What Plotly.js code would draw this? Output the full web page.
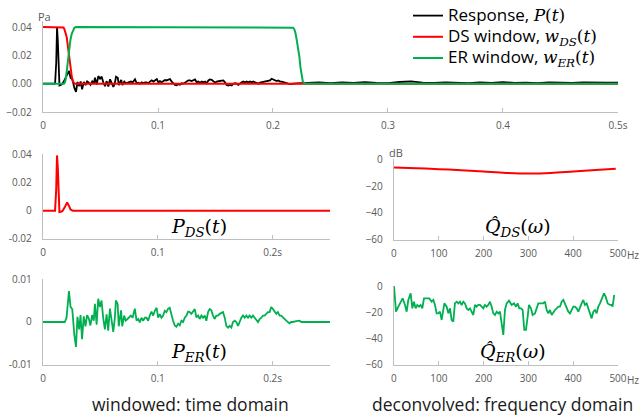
<!DOCTYPE html>
<html>
<head>
<meta charset="utf-8">
<script src="https://cdn.plot.ly/plotly-3.0.1.min.js"></script>
<style>html,body{margin:0;padding:0;background:#fff;}#chart{width:640px;height:420px;}</style>
</head>
<body>
<div id="chart"></div>
<script>
// ---- Windows (scaled to 0.04) ----
var dsWinT = [0, 0.017, 0.0178, 0.0186, 0.0196, 0.0206, 0.0216, 0.0226, 0.0235, 0.0243, 0.0252, 0.026, 0.0268, 0.0278, 0.5];
var dsWinV = [0.04, 0.04, 0.0397, 0.0385, 0.0362, 0.033, 0.0266, 0.0196, 0.0132, 0.0079, 0.0040, 0.0015, 0.0004, 0, 0];
var erWinT = [0, 0.0182, 0.019, 0.0197, 0.0208, 0.022, 0.0229, 0.0238, 0.0249, 0.026, 0.0272, 0.0285, 0.216, 0.2175, 0.2185,
  0.2196, 0.2206, 0.2218, 0.2229, 0.2239, 0.2249, 0.2259, 0.227, 0.229, 0.5];
var erWinV = [0, 0, 0.0008, 0.003, 0.0100, 0.0194, 0.0255, 0.0307, 0.0350, 0.0378, 0.0394, 0.04, 0.04, 0.0396, 0.0385,
  0.0356, 0.031, 0.0252, 0.0194, 0.0115, 0.0052, 0.0016, 0.0004, 0, 0];

// ---- Response: early direct sound part ----
var earlyT = [0, 0.0105, 0.0115, 0.0122, 0.0129, 0.0136, 0.0143, 0.0155, 0.017, 0.019, 0.021, 0.0226, 0.024, 0.0255];
var earlyV = [0, 0, 0.015, 0.040, 0.030, 0.004, -0.0012, -0.0008, 0, 0.003, 0.007, 0.009, 0.004, 0.0032];

// ---- Windowed ER response P_ER(t) ----
var erT = [0, 0.019, 0.0205, 0.0226, 0.024, 0.0255, 0.0272, 0.0287, 0.030, 0.0315, 0.0327, 0.034, 0.0355, 0.037, 0.0384, 0.0399,
  0.0413, 0.0428, 0.0442, 0.0452, 0.0467, 0.0481, 0.0496, 0.051, 0.0524, 0.0539, 0.0554, 0.0568, 0.0583, 0.0597, 0.0612, 0.0626,
  0.0635, 0.065, 0.066, 0.068, 0.069, 0.0707, 0.072, 0.0736, 0.075, 0.0765, 0.078, 0.080, 0.0815, 0.083, 0.0843, 0.0858, 0.0872,
  0.0887, 0.0901, 0.0916, 0.093, 0.0945, 0.096, 0.0974, 0.099, 0.1003, 0.1017, 0.1032, 0.1046, 0.1061, 0.1075, 0.109, 0.1104,
  0.1119, 0.1133, 0.1148, 0.1162, 0.1177, 0.1191, 0.1206, 0.122, 0.1235, 0.125, 0.1264, 0.1278, 0.1293, 0.1322, 0.1336, 0.1351,
  0.1365, 0.138, 0.1394, 0.1409, 0.1423, 0.1438, 0.1452, 0.1467, 0.1481, 0.1496, 0.151, 0.1525, 0.1539, 0.1554, 0.1568, 0.1583,
  0.1597, 0.1612, 0.1626, 0.1641, 0.1655, 0.167, 0.1684, 0.1699, 0.1713, 0.1728, 0.1742, 0.1757, 0.1771, 0.1786, 0.18, 0.1815,
  0.1829, 0.1844, 0.1858, 0.1873, 0.1887, 0.1902, 0.1916, 0.193, 0.1945, 0.196, 0.1974, 0.1988, 0.2003, 0.2017, 0.2032, 0.2046,
  0.2061, 0.2075, 0.209, 0.2104, 0.2119, 0.2133, 0.2148, 0.2162, 0.2177, 0.2206, 0.2235, 0.225, 0.25];
var erV = [0, 0, 0.001, 0.0072, 0.0035, 0.003, -0.0028, -0.0058, 0.0012, -0.0017, 0.0016, -0.004, 0.0013, -0.001, 0.0016, 0.0008,
  -0.0008, 0.0016, 0.0003, 0.0042, -0.0006, 0.0054, 0.0035, 0.005, 0.001, -0.0017, 0.0018, -0.002, 0.0031, 0.0003, -0.0023, 0.001,
  0.005, 0.0042, -0.001, 0.0027, -0.001, 0.0015, 0.0003, 0.0007, 0.001, 0.0015, 0.001, 0.0031, 0.0003, 0.0007, -0.0001, 0.001, 0.0003,
  0.001, 0.001, 0.0003, 0.0015, 0.0024, 0.0015, 0.0026, 0.0033, 0.001, 0.0018, 0.001, 0.0015, 0.0026, 0.0023, 0.0031, 0.0033,
  0.0015, 0.0003, -0.0008, -0.0011, -0.0004, -0.0008, 0.0003, 0, 0.001, 0.0015, 0.0024, 0.0023, 0.0019, 0.003, 0.0011, 0.0015,
  0.0007, 0.0015, 0.001, 0.0015, 0.0003, 0.0023, 0.003, 0.0027, 0.0015, 0.0007, 0.0015, 0.0015, 0.0019, 0.0021, 0.0023, 0.001,
  -0.0009, -0.0013, -0.0009, -0.0013, 0, 0.0003, 0, -0.0009, 0.0003, 0.001, 0.0015, 0.001, 0.0015, 0.001, 0.0015, 0.001,
  0.0015, 0.001, 0.0003, 0, 0.0007, 0.001, 0.0015, 0.0015, 0.0019, 0.0023, 0.0023, 0.0035, 0.003, 0.0023, 0.0019, 0.0023,
  0.0015, 0.0015, 0.001, 0.0007, 0.0003, 0, -0.0003, 0, 0, 0.0002, 0.0003, 0, 0];

// ---- Response tail after the ER window ----
var tailT = [0.23, 0.24, 0.25, 0.26, 0.27, 0.28, 0.29, 0.30, 0.31, 0.32, 0.33, 0.34, 0.35, 0.36, 0.37, 0.38, 0.39, 0.40, 0.41, 0.42, 0.43, 0.44, 0.45, 0.46, 0.47, 0.48, 0.49, 0.50];
var tailV = [0.0006, 0.001, 0.0004, 0.0009, 0.0005, 0.0011, 0.0006, 0.0004, 0.0012, 0.0016, 0.0008, 0.0005, 0.001, 0.0007, 0.0004, 0.0009, 0.0006, 0.0011, 0.0005, 0.0008, 0.0004, 0.001, 0.0007, 0.0005, 0.0009, 0.0006, 0.0008, 0.0007];

// ---- Windowed DS response P_DS(t) ----
var dsT = [0, 0.0105, 0.0115, 0.0122, 0.0129, 0.0136, 0.0143, 0.0155, 0.017, 0.019, 0.021, 0.0225, 0.024, 0.026, 0.25];
var dsV = [0, 0, 0.015, 0.039, 0.030, 0.004, -0.001, -0.0008, -0.0002, 0.0025, 0.0058, 0.0035, 0.0008, 0, 0];

// ---- Deconvolved spectra (dB) ----
var qdsF = [0, 50, 100, 150, 200, 250, 300, 350, 400, 450, 495];
var qdsV = [-6.3, -6.8, -7.5, -8.3, -9.3, -10.3, -10.8, -10.4, -9.3, -8.2, -7.2];
var qerF = [0, 4.5, 9.7, 14.9, 19.3, 24.6, 28.3, 32, 37.2, 41, 44.6, 48.4, 52, 55.8, 59.5, 63.2, 67, 73, 78.9, 84, 87.8, 91.5, 95.2, 99,
  102.7, 106.4, 110, 112.4, 117.6, 121.3, 125, 128.7, 132.4, 136, 139.9, 143.6, 147.3, 151, 154.8, 158.5, 162.2, 166, 169.6, 173.4,
  177, 180.8, 184.5, 188.2, 192, 195.7, 199.4, 203, 206.8, 210.5, 214.3, 218, 221.7, 225.4, 229.2, 232.9, 236.6, 240.3, 244, 247.8,
  251.5, 256.7, 262.6, 267.9, 272.3, 276, 279.7, 283.5, 287.2, 290.9, 294.6, 298.4, 301.3, 305.8, 309.5, 314.7, 318.5, 322.2, 328.1,
  333.3, 337, 340.8, 344.5, 348.2, 352, 355.7, 359.4, 363.1, 366.8, 370.5, 374.3, 378, 381.7, 385.4, 389.1, 392.9, 396.6, 400.3, 404,
  407.7, 411.5, 415.2, 418.9, 422.6, 426.3, 430, 433.8, 437.5, 441.2, 445, 448.7, 452.4, 456, 459.8, 463.5, 468.8, 472.5, 477, 482.1,
  485.9, 488, 491.6];
var qerV = [0, -19.5, -15.7, -11.9, -9.4, -14.4, -19.5, -10.6, -5.6, -17, -11.9, -17, -14.4, -15.7, -14.4, -17, -9.4, -9.4, -9.4, -11.9,
  -10.6, -14.4, -20.8, -20.8, -19.5, -25.8, -17, -13.2, -15.7, -20.8, -17, -25.8, -27, -13.2, -11.9, -13.2, -11.9, -14.4, -11.9, -13.2,
  -17, -18.2, -17, -19.5, -22, -14.4, -15.7, -14.4, -14.4, -15.7, -17, -14.4, -15.7, -14.4, -11.9, -15.7, -20.8, -22, -19.5, -20.8,
  -19.5, -28.3, -37.2, -18, -13.2, -11.1, -14.4, -13.2, -15.7, -13.2, -17, -17, -18.2, -33.4, -33.4, -23.3, -14.4, -17, -22, -20.8,
  -17, -13.2, -13.2, -13.2, -11.9, -18.2, -20.8, -18.2, -22, -19.5, -18.2, -17, -15.7, -15.7, -11.9, -10.6, -13.2, -17, -19.5, -20.8,
  -18.2, -15.7, -15.7, -17, -19.5, -15.7, -13.2, -10.6, -14.4, -13.2, -17, -20.8, -24.6, -19.5, -18.2, -20.8, -15.7, -13.2, -9.4,
  -5.6, -8.1, -13.2, -14.4, -14.4, -15.7, -6.8];

// ---- Tick labels ----
var topTickVals = [0, 0.1, 0.2, 0.3, 0.4, 0.5];
var topTickText = ['0', '0.1', '0.2', '0.3', '0.4', '0.5s'];
var winTickVals = [0, 0.1, 0.2];
var winTickText = ['0', '0.1', '0.2s'];
var freqTickVals = [0, 100, 200, 300, 400, 500];

// Assemble the full response from its parts
var respT = [], respV = [];
earlyT.forEach(function (t, i) { respT.push(t); respV.push(earlyV[i]); });
erT.forEach(function (t, i) { if (t > 0.026 && t < 0.224) { respT.push(t); respV.push(erV[i]); } });
tailT.forEach(function (t, i) { respT.push(t); respV.push(tailV[i]); });

var BLACK = '#000000', RED = '#ff0000', GREEN = '#00b050';
var MATH = 'DejaVu Serif';

function mi(s) { return '<i>' + s + '</i>'; }
function legName(word, sym) {
  return '<span style="font-size:17px">' + word + ' <span style="font-family:' + MATH + ';font-size:17px">' + sym + '</span></span>';
}

var traces = [
  { x: respT, y: respV, xaxis: 'x', yaxis: 'y', mode: 'lines', line: { color: BLACK, width: 1.8 },
    name: legName('Response,', mi('P') + '(' + mi('t') + ')') },
  { x: dsWinT, y: dsWinV, xaxis: 'x', yaxis: 'y', mode: 'lines', line: { color: RED, width: 2 },
    name: legName('DS window,', mi('w') + '<sub>' + mi('DS') + '</sub>(' + mi('t') + ')') },
  { x: erWinT, y: erWinV, xaxis: 'x', yaxis: 'y', mode: 'lines', line: { color: GREEN, width: 2 },
    name: legName('ER window,', mi('w') + '<sub>' + mi('ER') + '</sub>(' + mi('t') + ')') },
  { x: dsT, y: dsV, xaxis: 'x2', yaxis: 'y2', mode: 'lines', line: { color: RED, width: 2 }, showlegend: false },
  { x: qdsF, y: qdsV, xaxis: 'x3', yaxis: 'y3', mode: 'lines', line: { color: RED, width: 2, shape: 'spline' }, showlegend: false },
  { x: erT, y: erV, xaxis: 'x4', yaxis: 'y4', mode: 'lines', line: { color: GREEN, width: 1.8 }, showlegend: false },
  { x: qerF, y: qerV, xaxis: 'x5', yaxis: 'y5', mode: 'lines', line: { color: GREEN, width: 1.8 }, showlegend: false }
];

var AX = { showline: true, linecolor: '#bfbfbf', linewidth: 1.2, showgrid: false, zeroline: false,
  tickfont: { size: 10, color: '#595959' }, fixedrange: true };
function xa(o) { return Object.assign({}, AX, { ticks: 'inside', ticklen: 4, tickcolor: '#bfbfbf', ticklabelstandoff: 4 }, o); }
function ya(o) { return Object.assign({}, AX, { ticks: '', ticklabelstandoff: 8 }, o); }

function note(text, px, py, font) {
  return { text: text, x: px / 640, y: 1 - py / 420, xref: 'paper', yref: 'paper', xanchor: 'center', yanchor: 'middle',
    showarrow: false, font: font };
}
var tickFont = { size: 10, color: '#595959' };
var mathFont = { size: 19, color: '#000000', family: MATH };
var capFont = { size: 17.5, color: '#1a1a1a' };

var layout = {
  width: 640, height: 420,
  margin: { l: 0, r: 0, t: 0, b: 0 },
  paper_bgcolor: '#ffffff', plot_bgcolor: 'rgba(0,0,0,0)',
  font: { family: 'Open Sans, sans-serif', color: '#595959' },
  showlegend: true,
  legend: { x: 408 / 640, y: 1, xanchor: 'left', yanchor: 'top', bgcolor: 'rgba(0,0,0,0)',
    font: { size: 14, color: '#000000', family: 'Open Sans, sans-serif' }, tracegroupgap: 0 },
  xaxis: xa({ domain: [0.0672, 0.9656], range: [0, 0.5], anchor: 'y', tickvals: topTickVals, ticktext: topTickText }),
  yaxis: ya({ domain: [0.7333, 0.9490], range: [-0.02, 0.044], anchor: 'x', tickvals: [-0.02, 0, 0.02, 0.04], tickformat: '.2f' }),
  xaxis2: xa({ domain: [0.0672, 0.5156], range: [0, 0.25], anchor: 'y2', tickvals: winTickVals, ticktext: winTickText }),
  yaxis2: ya({ domain: [0.4310, 0.6333], range: [-0.02, 0.04], anchor: 'x2', tickvals: [-0.02, 0, 0.02, 0.04], ticktext: ['-0.02', '0', '0.02', '0.04'] }),
  xaxis3: xa({ domain: [0.6156, 0.9656], range: [0, 500], anchor: 'y3', tickvals: freqTickVals }),
  yaxis3: ya({ domain: [0.4286, 0.6214], range: [-60, 0], anchor: 'x3', tickvals: [-60, -40, -20, 0] }),
  xaxis4: xa({ domain: [0.0672, 0.5156], range: [0, 0.25], anchor: 'y4', tickvals: winTickVals, ticktext: winTickText }),
  yaxis4: ya({ domain: [0.1310, 0.3357], range: [-0.01, 0.01], anchor: 'x4', tickvals: [-0.01, 0, 0.01], ticktext: ['-0.01', '0', '0.01'] }),
  xaxis5: xa({ domain: [0.6156, 0.9656], range: [0, 500], anchor: 'y5', tickvals: freqTickVals }),
  yaxis5: ya({ domain: [0.1310, 0.3190], range: [-60, 0], anchor: 'x5', tickvals: [-60, -40, -20, 0] }),
  annotations: [
    note('Pa', 44, 17, { size: 11, color: '#595959' }),
    note('dB', 396, 152, { size: 11, color: '#595959' }),
    note('Hz', 633, 255, tickFont),
    note('Hz', 633, 380, tickFont),
    note(mi('P') + '<sub>' + mi('DS') + '</sub>(' + mi('t') + ')', 199, 228, mathFont),
    note(mi('Q\u0302') + '<sub>' + mi('DS') + '</sub>(' + mi('\u03c9') + ')', 518, 228, mathFont),
    note(mi('P') + '<sub>' + mi('ER') + '</sub>(' + mi('t') + ')', 199, 352, mathFont),
    note(mi('Q\u0302') + '<sub>' + mi('ER') + '</sub>(' + mi('\u03c9') + ')', 513, 352, mathFont),
    note('windowed: time domain', 190, 404, capFont),
    note('deconvolved: frequency domain', 502, 404, capFont)
  ]
};

Plotly.newPlot('chart', traces, layout, { staticPlot: true, displayModeBar: false });
</script>
</body>
</html>
